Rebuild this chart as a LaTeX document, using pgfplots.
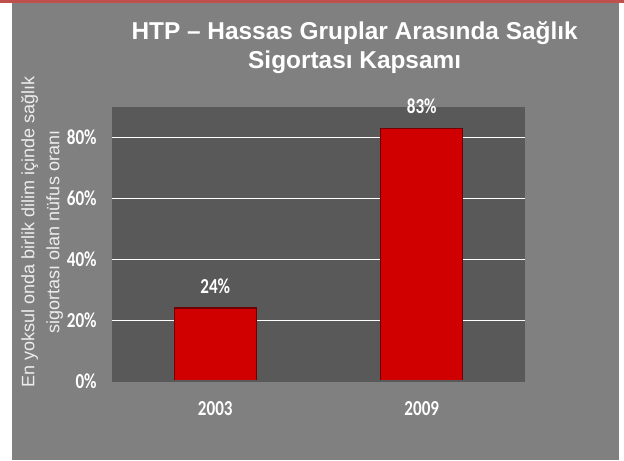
\documentclass[border=0pt]{standalone}
\usepackage{pgfplots}
\pgfplotsset{compat=1.18}
\usepackage{fontspec}
\setmainfont{Liberation Sans}
\newfontfamily\carlito[FakeStretch=0.8]{Carlito}
\definecolor{panel}{HTML}{808080}
\definecolor{plotbg}{HTML}{595959}
\definecolor{barred}{HTML}{D00000}
\definecolor{topred}{HTML}{C0504D}
\begin{document}
\begin{tikzpicture}
\path[use as bounding box] (0,0) rectangle (468pt,345pt);
\fill[white] (0,0) rectangle (468pt,345pt);
\fill[panel] (9pt,0) rectangle (464.25pt,342.75pt);
\fill[topred] (0,342.75pt) rectangle (468pt,345pt);
\node[white, font=\bfseries\fontsize{18.3}{21.5}\selectfont, align=center] at (266pt,309.5pt)
  {HTP -- Hassas Gruplar Arasında Sağlık\\Sigortası Kapsamı};
\node[rotate=90, color=white!93!black, font=\fontsize{13.5}{18.75}\selectfont, align=center] at (31.5pt,171pt)
  {En yoksul onda birlik dilim içinde sağlık\\sigortası olan nüfus oranı};
\begin{axis}[
  at={(84pt,59.25pt)}, anchor=south west,
  scale only axis, width=309.75pt, height=205.5pt,
  axis background/.style={fill=plotbg},
  axis line style={draw=none},
  ybar, bar width=61.5pt,
  xmin=-0.5, xmax=1.5, ymin=0, ymax=90,
  xtick={0,1}, xticklabels={2003,2009},
  ytick={0,20,40,60,80},
  yticklabel={\pgfmathprintnumber{\tick}\%},
  major tick length=0pt,
  ymajorgrids, grid style={white, line width=0.9pt},
  tick label style={white, font=\carlito\bfseries\fontsize{16}{18}\selectfont},
  /pgf/number format/assume math mode=true,
  yticklabel style={xshift=-8pt},
  xticklabel style={yshift=-12pt},
  nodes near coords={\pgfmathprintnumber{\pgfplotspointmeta}\%},
  nodes near coords style={white, font=\carlito\bfseries\fontsize{16}{18}\selectfont, yshift=7pt},
  clip=false,
]
\addplot[fill=barred, draw=barred!55!black, line width=1pt] coordinates {(0,24) (1,83)};
\draw[color=black!65, line width=1pt] (rel axis cs:0,0) -- (rel axis cs:1,0);
\end{axis}
\end{tikzpicture}
\end{document}
